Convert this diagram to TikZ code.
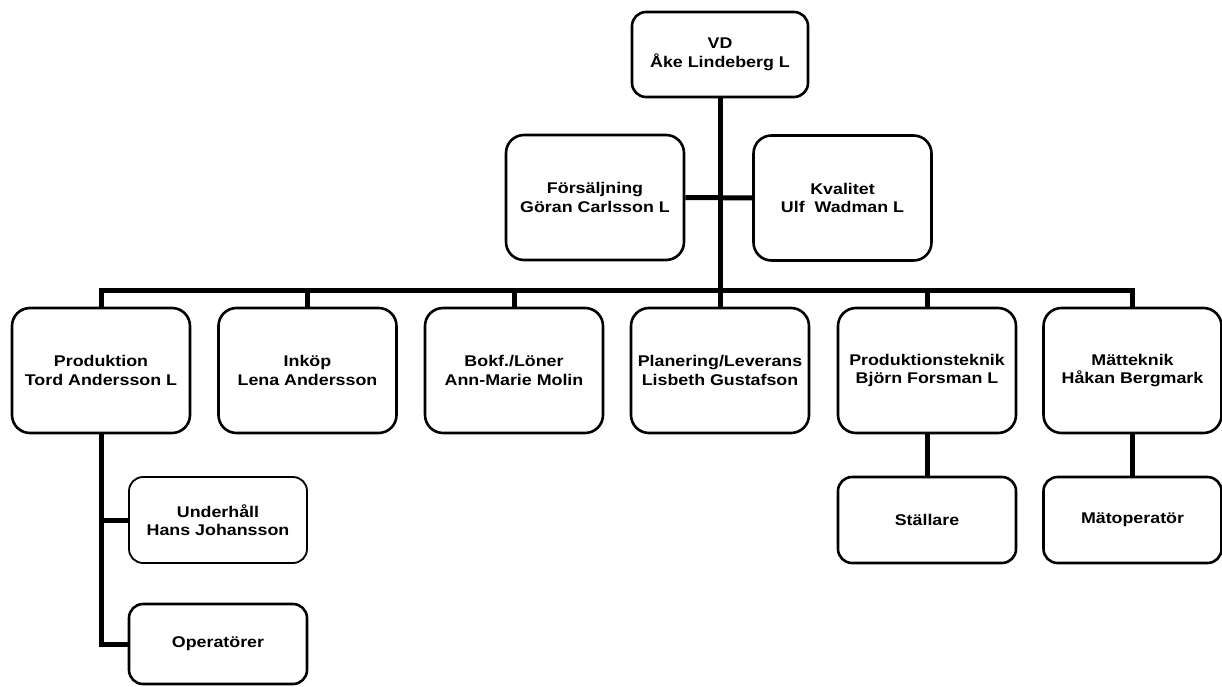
\documentclass[tikz,border=0pt]{standalone}
\usepackage{fontspec}
\newfontfamily\labfont[FakeStretch=1.15]{Liberation Sans}
\begin{document}
\begin{tikzpicture}[x=1pt,y=-1pt,
  box/.style={draw=black, line width=2.6pt, rounded corners=18pt, fill=white,
    minimum width=178pt, minimum height=125pt, align=center, inner sep=0pt,
    font=\labfont\bfseries\fontsize{15.5}{18.5}\selectfont},
  smallbox/.style={box, minimum height=86pt, rounded corners=14pt},
  thinbox/.style={smallbox, line width=1.8pt},
  conn/.style={draw=black, line width=5pt}]
\useasboundingbox (0,0) rectangle (1222,687);
\fill[white] (0,0) rectangle (1222,687);

\node[smallbox, minimum width=176pt, minimum height=85pt] (vd) at (720,54.5) {VD\\Åke Lindeberg L};
\node[box] (fors) at (595,197.5) {Försäljning\\Göran Carlsson L};
\node[box] (kval) at (842.5,198) {Kvalitet\\Ulf\ \ Wadman L};

\node[box] (prod) at (101,370.5) {Produktion\\Tord Andersson L};
\node[box] (ink) at (307.5,370.5) {Inköp\\Lena Andersson};
\node[box] (bokf) at (514,370.5) {Bokf./Löner\\Ann-Marie Molin};
\node[box] (plan) at (720,370.5) {Planering/Leverans\\Lisbeth Gustafson};
\node[box] (ptek) at (927,370.5) {Produktionsteknik\\Björn Forsman L};
\node[box] (mat) at (1132.5,370.5) {Mätteknik\\Håkan Bergmark};

\node[thinbox] (und) at (218,520) {Underhåll\\Hans Johansson};
\node[smallbox, minimum height=80pt] (oper) at (218,644) {Operatörer};
\node[smallbox] (stall) at (927,520) {Ställare};
\node[smallbox] (matop) at (1132.5,520) {Mätoperatör};

\coordinate (barY) at (720,290);

\draw[conn] (vd.south) -- (barY);
\draw[conn] (fors.east) -- (kval.west);
\draw[conn] (prod.north) |- (barY) -| (mat.north);
\draw[conn] (ink.north) -- (ink.north |- barY);
\draw[conn] (bokf.north) -- (bokf.north |- barY);
\draw[conn] (plan.north) -- (barY);
\draw[conn] (ptek.north) -- (ptek.north |- barY);
\draw[conn] (prod.south) |- (oper.west);
\draw[conn] (prod.south |- und.west) -- (und.west);
\draw[conn] (ptek.south) -- (stall.north);
\draw[conn] (mat.south) -- (matop.north);
\end{tikzpicture}
\end{document}
